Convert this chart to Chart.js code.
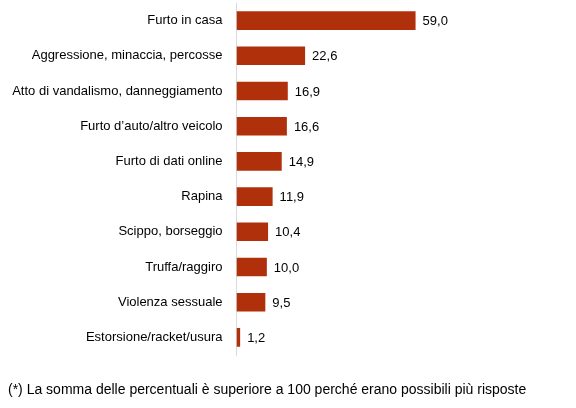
<!DOCTYPE html>
<html><head><meta charset="utf-8">
<script src="https://cdn.jsdelivr.net/npm/chart.js@4/dist/chart.umd.min.js"></script>
<style>html,body{margin:0;padding:0;background:#fff}#w{width:576px;height:408px;position:relative}</style>
</head><body><div id="w"><canvas id="c" width="576" height="408"></canvas></div>
<script>
const categories = ["Furto in casa","Aggressione, minaccia, percosse","Atto di vandalismo, danneggiamento","Furto d\u2019auto/altro veicolo","Furto di dati online","Rapina","Scippo, borseggio","Truffa/raggiro","Violenza sessuale","Estorsione/racket/usura"];
const values = [59.0,22.6,16.9,16.6,14.9,11.9,10.4,10.0,9.5,1.2];
const footnote = "(*) La somma delle percentuali \u00e8 superiore a 100 perch\u00e9 erano possibili pi\u00f9 risposte";
const FONT = "'Liberation Sans', Arial, sans-serif";

const valueLabels = {
  id:'valueLabels',
  afterDatasetsDraw(chart){
    const ctx = chart.ctx;
    const meta = chart.getDatasetMeta(0);
    ctx.save();
    ctx.font = "13px " + FONT;
    ctx.fillStyle = "#000";
    ctx.textBaseline = "middle";
    ctx.textAlign = "left";
    meta.data.forEach((bar,i)=>{
      ctx.fillText(values[i].toFixed(1).replace('.',','), bar.x + 7, bar.y + 1);
    });
    ctx.font = "14px " + FONT;
    ctx.fillText(footnote, 8, 390);
    ctx.restore();
  }
};

new Chart(document.getElementById('c'), {
  type:'bar',
  data:{labels:categories, datasets:[{data:values, backgroundColor:'#B0300C', borderWidth:0, categoryPercentage:0.6, barPercentage:0.88}]},
  options:{
    indexAxis:'y', responsive:false, animation:false,
    layout:{padding:{left:8, right:36, top:3, bottom:53}},
    plugins:{legend:{display:false}, tooltip:{enabled:false}},
    scales:{
      x:{display:false, min:0, max:100},
      y:{
        afterFit(s){ s.width = 228.5; s.paddingTop = 0; s.paddingBottom = 0; },
        grid:{display:false, drawTicks:false},
        border:{display:true, color:'#d9d9d9', width:1},
        ticks:{padding:14, color:'#000', font:{family:FONT, size:13}}
      }
    }
  },
  plugins:[valueLabels]
});
</script></body></html>
